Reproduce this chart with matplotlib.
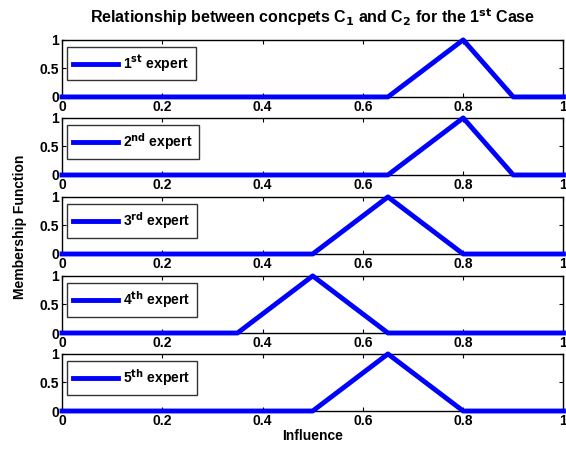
import matplotlib
matplotlib.use("Agg")
import matplotlib.pyplot as plt

# dados: funcoes de pertinencia triangulares (inicio, pico, fim) por especialista
especialistas = ["1$^{st}$ expert", "2$^{nd}$ expert", "3$^{rd}$ expert",
                 "4$^{th}$ expert", "5$^{th}$ expert"]
x_pontos = [
    [0, 0.65, 0.8, 0.9, 1],
    [0, 0.65, 0.8, 0.9, 1],
    [0, 0.5, 0.65, 0.8, 1],
    [0, 0.35, 0.5, 0.65, 1],
    [0, 0.5, 0.65, 0.8, 1],
]
y_pontos = [0, 0, 1, 0, 0]
xticks = [0, 0.2, 0.4, 0.6, 0.8, 1]
yticks = [0, 0.5, 1]

plt.rcParams["font.family"] = ["Liberation Sans", "DejaVu Sans"]
plt.rcParams["font.weight"] = "bold"
plt.rcParams["font.size"] = 10
plt.rcParams["mathtext.default"] = "bf"

fig = plt.figure(figsize=(5.66, 4.53), dpi=100)
bottoms = [0.786, 0.6137, 0.4393, 0.2649, 0.0927]
left, width, height = 0.1095, 0.886, 0.126

axes = []
for i, b in enumerate(bottoms):
    ax = fig.add_axes([left, b, width, height])
    ax.plot(x_pontos[i], y_pontos, color="#0000ff", linewidth=3.5, label=especialistas[i],
            clip_on=False, zorder=3)
    ax.set_xlim(0, 1)
    ax.set_ylim(0, 1)
    ax.set_xticks(xticks)
    ax.set_xticklabels(["0", "0.2", "0.4", "0.6", "0.8", "1"])
    ax.set_yticks(yticks)
    ax.set_yticklabels(["0", "0.5", "1"])
    ax.tick_params(direction="in", top=True, right=True, length=3, pad=2)
    for s in ax.spines.values():
        s.set_linewidth(1)
    leg = ax.legend(loc="upper left", bbox_to_anchor=(0.01, 0.87), borderaxespad=0,
                    fancybox=False, handlelength=3.2, borderpad=0.45, handletextpad=0.4,
                    prop={"weight": "bold", "size": 10})
    leg.get_frame().set_edgecolor("black")
    leg.get_frame().set_linewidth(1)
    axes.append(ax)

axes[0].set_title("Relationship between concpets C$_1$ and C$_2$ for the 1$^{st}$ Case",
                  fontsize=11.5, fontweight="bold", pad=12)
axes[4].set_xlabel("Influence", fontweight="bold", labelpad=1)
fig.text(0.035, 0.5, "Membership Function", rotation=90, va="center", ha="center",
         fontweight="bold", fontsize=10)

fig.savefig("out.png", dpi=100)
